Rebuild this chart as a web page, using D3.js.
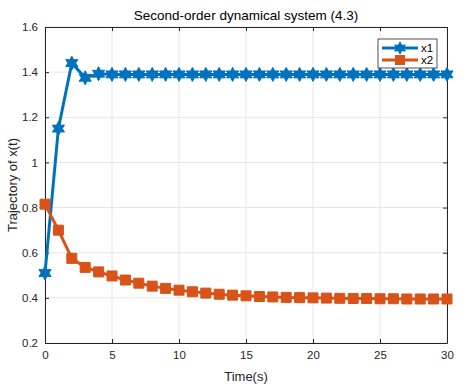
<!DOCTYPE html>
<html>
<head>
<meta charset="utf-8">
<script src="https://cdn.jsdelivr.net/npm/d3@7.9.0/dist/d3.min.js"></script>
<style>
  body { margin: 0; background: #fff; }
  text { font-family: "Liberation Sans", Arial, sans-serif; }
</style>
</head>
<body>
<svg id="chart" width="470" height="388"></svg>
<script>
// --- data ---
const time = d3.range(0, 31);
const x1 = [0.51, 1.15, 1.44, 1.375, 1.393, 1.39, 1.39, 1.39, 1.39, 1.39,
  1.39, 1.39, 1.39, 1.39, 1.39, 1.39, 1.39, 1.39, 1.39, 1.39,
  1.39, 1.39, 1.39, 1.39, 1.39, 1.39, 1.39, 1.39, 1.39, 1.39, 1.39];
const x2 = [0.815, 0.70, 0.575, 0.535, 0.515, 0.497, 0.479, 0.465, 0.452, 0.442,
  0.434, 0.427, 0.421, 0.416, 0.412, 0.409, 0.406, 0.404, 0.402, 0.401,
  0.400, 0.399, 0.398, 0.397, 0.397, 0.396, 0.396, 0.395, 0.395, 0.395, 0.395];
const xTicks = [0, 5, 10, 15, 20, 25, 30];
const yTicks = [0.2, 0.4, 0.6, 0.8, 1, 1.2, 1.4, 1.6];
const seriesNames = ["x1", "x2"];
const colors = ["#0072BD", "#D95319"];

const svg = d3.select("#chart");
const margin = { top: 27, right: 23, bottom: 45, left: 45 };
const W = 470, H = 388;
const innerW = W - margin.left - margin.right;
const innerH = H - margin.top - margin.bottom;

const x = d3.scaleLinear().domain([0, 30]).range([margin.left, margin.left + innerW]);
const y = d3.scaleLinear().domain([0.2, 1.6]).range([margin.top + innerH, margin.top]);

// grid
const grid = svg.append("g").attr("stroke", "#e6e6e6").attr("stroke-width", 1);
xTicks.forEach(t => grid.append("line")
  .attr("x1", x(t)).attr("x2", x(t)).attr("y1", y(0.2)).attr("y2", y(1.6)));
yTicks.forEach(t => grid.append("line")
  .attr("x1", x(0)).attr("x2", x(30)).attr("y1", y(t)).attr("y2", y(t)));

// axes (MATLAB box style)
const axisColor = "#262626";
const styleAxis = g => {
  g.select(".domain").attr("stroke", axisColor);
  g.selectAll(".tick line").attr("stroke", axisColor);
  g.selectAll(".tick text").attr("fill", axisColor).style("font-size", "11.5px")
    .style("font-family", "'Liberation Sans', Arial, sans-serif");
};
const fmt = d => d3.format("")(+d.toFixed(1));

svg.append("g").attr("transform", `translate(0,${y(0.2)})`)
  .call(d3.axisBottom(x).tickValues(xTicks).tickSize(-4).tickSizeOuter(0).tickPadding(8))
  .call(styleAxis);
svg.append("g").attr("transform", `translate(0,${y(1.6)})`)
  .call(d3.axisTop(x).tickValues(xTicks).tickSize(-4).tickSizeOuter(0).tickFormat(""))
  .call(styleAxis);
svg.append("g").attr("transform", `translate(${x(0)},0)`)
  .call(d3.axisLeft(y).tickValues(yTicks).tickSize(-4).tickSizeOuter(0).tickPadding(7).tickFormat(fmt))
  .call(styleAxis);
svg.append("g").attr("transform", `translate(${x(30)},0)`)
  .call(d3.axisRight(y).tickValues(yTicks).tickSize(-4).tickSizeOuter(0).tickFormat(""))
  .call(styleAxis);

// hexagram marker path
function hexagram(r) {
  const pts = [];
  for (let i = 0; i < 12; i++) {
    const a = -Math.PI / 2 + i * Math.PI / 6;
    const rr = i % 2 === 0 ? r : r * 0.55;
    pts.push([rr * Math.cos(a), rr * Math.sin(a)]);
  }
  return "M" + pts.map(p => p.join(",")).join("L") + "Z";
}
const square = s => `M${-s},${-s}H${s}V${s}H${-s}Z`;

const line = d3.line().x(d => x(d[0])).y(d => y(d[1]));
const series = [x1, x2];
series.forEach((vals, i) => {
  const pts = time.map((t, k) => [t, vals[k]]);
  const g = svg.append("g");
  g.append("path").attr("d", line(pts)).attr("fill", "none")
    .attr("stroke", colors[i]).attr("stroke-width", 3).attr("stroke-linejoin", "round");
  g.selectAll("path.m").data(pts).join("path").attr("class", "m")
    .attr("transform", d => `translate(${x(d[0])},${y(d[1])})`)
    .attr("d", i === 0 ? hexagram(7) : square(5))
    .attr("fill", colors[i]).attr("stroke", colors[i]).attr("stroke-width", 1);
});

// title & labels
svg.append("text").attr("x", (x(0) + x(30)) / 2).attr("y", 20)
  .attr("text-anchor", "middle").style("font-size", "13.5px").attr("fill", "#000")
  .text("Second-order dynamical system (4.3)");
svg.append("text").attr("x", (x(0) + x(30)) / 2).attr("y", 381)
  .attr("text-anchor", "middle").style("font-size", "13px").attr("fill", axisColor)
  .text("Time(s)");
svg.append("text").attr("transform", `translate(17,${(y(0.2) + y(1.6)) / 2}) rotate(-90)`)
  .attr("text-anchor", "middle").style("font-size", "13px").attr("fill", axisColor)
  .text("Trajectory of x(t)");

// legend
const lg = svg.append("g").attr("transform", "translate(378,39)");
lg.append("rect").attr("width", 59).attr("height", 29)
  .attr("fill", "#fff").attr("stroke", axisColor).attr("stroke-width", 0.8);
seriesNames.forEach((name, i) => {
  const yy = 9 + i * 12;
  lg.append("line").attr("x1", 4).attr("x2", 40).attr("y1", yy).attr("y2", yy)
    .attr("stroke", colors[i]).attr("stroke-width", 3);
  lg.append("path").attr("transform", `translate(22,${yy})`)
    .attr("d", i === 0 ? hexagram(7) : square(5)).attr("fill", colors[i]);
  lg.append("text").attr("x", 43).attr("y", yy + 4).style("font-size", "11.5px")
    .attr("fill", "#000").text(name);
});
</script>
</body>
</html>
